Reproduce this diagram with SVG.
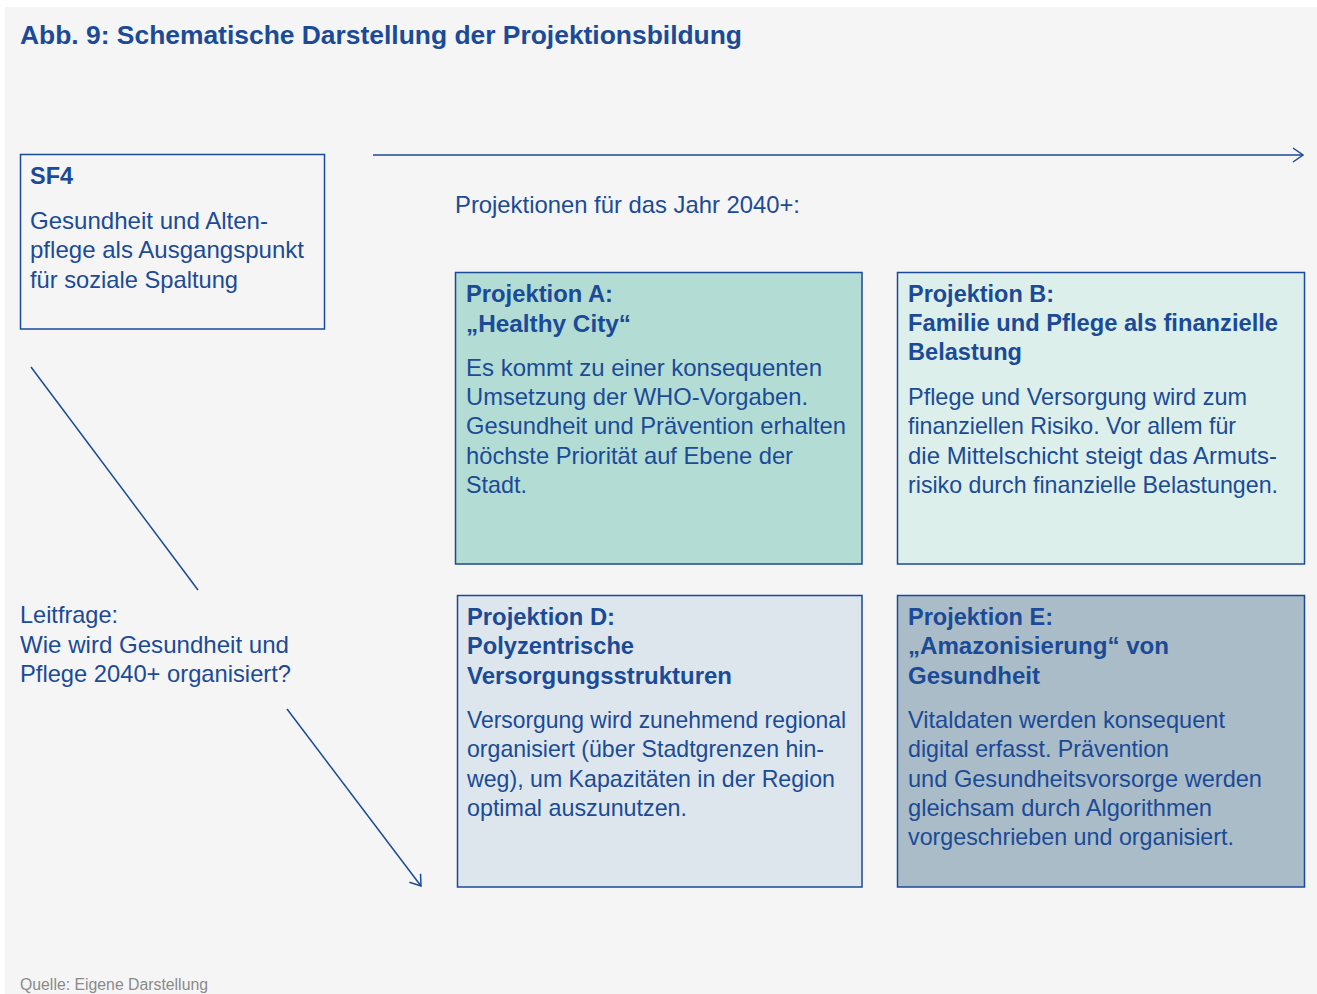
<svg xmlns="http://www.w3.org/2000/svg" width="1317" height="994" viewBox="0 0 1317 994">
<defs>
<style>
.t{font-family:"Liberation Sans",Arial,sans-serif;fill:#1b4a97;}
.h{font-weight:bold;font-size:23.7px;}
.b{font-size:23.8px;}
.box{stroke:#1b4a97;stroke-width:1.5;}
.ln{stroke:#1b4a97;stroke-width:1.5;fill:none;}
</style>
<marker id="ah" viewBox="0 0 12 16" refX="11" refY="8" markerWidth="12" markerHeight="16" markerUnits="userSpaceOnUse" orient="auto">
<path d="M1,1 L11,8 L1,15" fill="none" stroke="#1b4a97" stroke-width="1.5"/>
</marker>
</defs>
<rect x="0" y="0" width="1317" height="994" fill="#ffffff"/>
<rect x="5" y="7" width="1312" height="987" fill="#f5f5f5"/>
<text class="t" x="20" y="44" font-size="26.4" font-weight="bold" textLength="722" lengthAdjust="spacingAndGlyphs">Abb. 9: Schematische Darstellung der Projektionsbildung</text>

<g id="connectors">
<line class="ln" x1="373" y1="155" x2="1303" y2="155" marker-end="url(#ah)"/>
<line class="ln" x1="31" y1="367" x2="198" y2="590"/>
<line class="ln" x1="287" y1="709" x2="421" y2="886" marker-end="url(#ah)"/>
</g>

<g id="sf4">
<rect class="box" x="20.5" y="154.5" width="304" height="174.5" fill="none"/>
<text class="t h" x="30" y="184" textLength="43" lengthAdjust="spacingAndGlyphs">SF4</text>
<text class="t b" x="30" y="229" textLength="238" lengthAdjust="spacingAndGlyphs">Gesundheit und Alten-</text>
<text class="t b" x="30" y="258" textLength="274" lengthAdjust="spacingAndGlyphs">pflege als Ausgangspunkt</text>
<text class="t b" x="30" y="288" textLength="208" lengthAdjust="spacingAndGlyphs">für soziale Spaltung</text>
</g>

<g id="heading">
<text class="t b" x="455" y="213" textLength="345" lengthAdjust="spacingAndGlyphs">Projektionen für das Jahr 2040+:</text>
</g>

<g id="projA">
<rect class="box" x="455.5" y="272.5" width="406.5" height="291.5" fill="#b2dcd4"/>
<text class="t h" x="466" y="302" textLength="147" lengthAdjust="spacingAndGlyphs">Projektion A:</text>
<text class="t h" x="466" y="332" textLength="165" lengthAdjust="spacingAndGlyphs">„Healthy City“</text>
<text class="t b" x="466" y="376" textLength="356" lengthAdjust="spacingAndGlyphs">Es kommt zu einer konsequenten</text>
<text class="t b" x="466" y="405" textLength="342" lengthAdjust="spacingAndGlyphs">Umsetzung der WHO-Vorgaben.</text>
<text class="t b" x="466" y="434" textLength="380" lengthAdjust="spacingAndGlyphs">Gesundheit und Prävention erhalten</text>
<text class="t b" x="466" y="464" textLength="327" lengthAdjust="spacingAndGlyphs">höchste Priorität auf Ebene der</text>
<text class="t b" x="466" y="493" textLength="61" lengthAdjust="spacingAndGlyphs">Stadt.</text>
</g>

<g id="projB">
<rect class="box" x="897.5" y="272.5" width="407" height="291.5" fill="#dcefeb"/>
<text class="t h" x="908" y="302" textLength="146" lengthAdjust="spacingAndGlyphs">Projektion B:</text>
<text class="t h" x="908" y="331" textLength="370" lengthAdjust="spacingAndGlyphs">Familie und Pflege als finanzielle</text>
<text class="t h" x="908" y="360" textLength="114" lengthAdjust="spacingAndGlyphs">Belastung</text>
<text class="t b" x="908" y="405" textLength="339" lengthAdjust="spacingAndGlyphs">Pflege und Versorgung wird zum</text>
<text class="t b" x="908" y="434" textLength="328" lengthAdjust="spacingAndGlyphs">finanziellen Risiko. Vor allem für</text>
<text class="t b" x="908" y="464" textLength="369" lengthAdjust="spacingAndGlyphs">die Mittelschicht steigt das Armuts-</text>
<text class="t b" x="908" y="493" textLength="370" lengthAdjust="spacingAndGlyphs">risiko durch finanzielle Belastungen.</text>
</g>

<g id="projD">
<rect class="box" x="457.5" y="595.5" width="404.5" height="291.5" fill="#dce6ec"/>
<text class="t h" x="467" y="625" textLength="148" lengthAdjust="spacingAndGlyphs">Projektion D:</text>
<text class="t h" x="467" y="654" textLength="167" lengthAdjust="spacingAndGlyphs">Polyzentrische</text>
<text class="t h" x="467" y="684" textLength="265" lengthAdjust="spacingAndGlyphs">Versorgungsstrukturen</text>
<text class="t b" x="467" y="728" textLength="379" lengthAdjust="spacingAndGlyphs">Versorgung wird zunehmend regional</text>
<text class="t b" x="467" y="757" textLength="357" lengthAdjust="spacingAndGlyphs">organisiert (über Stadtgrenzen hin-</text>
<text class="t b" x="467" y="787" textLength="368" lengthAdjust="spacingAndGlyphs">weg), um Kapazitäten in der Region</text>
<text class="t b" x="467" y="816" textLength="220" lengthAdjust="spacingAndGlyphs">optimal auszunutzen.</text>
</g>

<g id="projE">
<rect class="box" x="897.5" y="595.5" width="407" height="291.5" fill="#a9bcc7"/>
<text class="t h" x="908" y="625" textLength="145" lengthAdjust="spacingAndGlyphs">Projektion E:</text>
<text class="t h" x="908" y="654" textLength="261" lengthAdjust="spacingAndGlyphs">„Amazonisierung“ von</text>
<text class="t h" x="908" y="684" textLength="132" lengthAdjust="spacingAndGlyphs">Gesundheit</text>
<text class="t b" x="908" y="728" textLength="317" lengthAdjust="spacingAndGlyphs">Vitaldaten werden konsequent</text>
<text class="t b" x="908" y="757" textLength="261" lengthAdjust="spacingAndGlyphs">digital erfasst. Prävention</text>
<text class="t b" x="908" y="787" textLength="354" lengthAdjust="spacingAndGlyphs">und Gesundheitsvorsorge werden</text>
<text class="t b" x="908" y="816" textLength="304" lengthAdjust="spacingAndGlyphs">gleichsam durch Algorithmen</text>
<text class="t b" x="908" y="845" textLength="326" lengthAdjust="spacingAndGlyphs">vorgeschrieben und organisiert.</text>
</g>

<g id="leitfrage">
<text class="t b" x="20" y="623" textLength="98" lengthAdjust="spacingAndGlyphs">Leitfrage:</text>
<text class="t b" x="20" y="653" textLength="269" lengthAdjust="spacingAndGlyphs">Wie wird Gesundheit und</text>
<text class="t b" x="20" y="682" textLength="271" lengthAdjust="spacingAndGlyphs">Pflege 2040+ organisiert?</text>
</g>

<g id="source">
<text x="20" y="990" font-family="Liberation Sans,Arial,sans-serif" font-size="15.8" fill="#8a8a8a" textLength="188" lengthAdjust="spacingAndGlyphs">Quelle: Eigene Darstellung</text>
</g>
</svg>
